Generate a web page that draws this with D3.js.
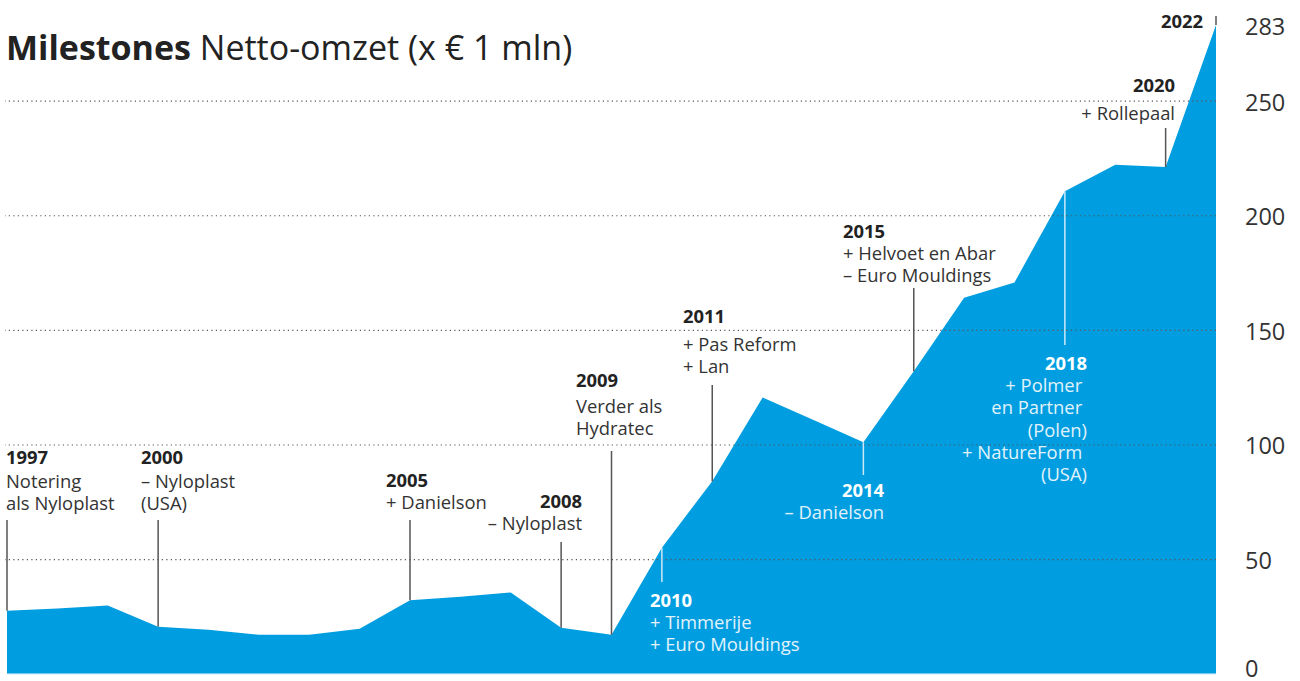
<!DOCTYPE html>
<html>
<head>
<meta charset="utf-8">
<script src="https://cdn.jsdelivr.net/npm/d3@7"></script>
<style>
  body { margin: 0; background: #fff; }
  svg { display: block; font-family: "Open Sans", sans-serif; }
  text { white-space: pre; }
</style>
</head>
<body>
<div id="chart"></div>
<script>
// jaren (2021 ontbreekt in de bron, laatste punt is 2022)
const years = [1997, 1998, 1999, 2000, 2001, 2002, 2003, 2004, 2005, 2006, 2007, 2008,
  2009, 2010, 2011, 2012, 2013, 2014, 2015, 2016, 2017, 2018, 2019, 2020, 2022]
const revenue = [27.5, 28.4, 29.7, 20.5, 19.2, 17, 17, 19.6, 32, 33.6, 35.4, 20,
  17, 55, 84, 120.5, 110.8, 101, 132, 164, 170.7, 210.5, 222, 221, 283]

const axisTicks = [0, 50, 100, 150, 200, 250, 283]
const gridTicks = [50, 100, 150, 200, 250]

const milestoneYears = [1997, 2000, 2005, 2008, 2009, 2010, 2011, 2014, 2015, 2018, 2020, 2022]
const milestoneTexts = [
  ["Notering", "als Nyloplast"],
  ["– Nyloplast", "(USA)"],
  ["+ Danielson"],
  ["– Nyloplast"],
  ["Verder als", "Hydratec"],
  ["+ Timmerije", "+ Euro Mouldings"],
  ["+ Pas Reform", "+ Lan"],
  ["– Danielson"],
  ["+ Helvoet en Abar", "– Euro Mouldings"],
  ["+ Polmer ", "en Partner ", "(Polen)", "+ NatureForm ", "(USA)"],
  ["+ Rollepaal"],
  []
]

// plaatsing van de labels (pixels)
const layout = {
  1997: { tx: 6, anchor: "start", base: 464, gap: 24, end: 520 },
  2000: { tx: 141, anchor: "start", base: 464, gap: 24, end: 520 },
  2005: { tx: 386, anchor: "start", base: 487, gap: 22, end: 520 },
  2008: { tx: 582, anchor: "end", base: 508, gap: 22, end: 542 },
  2009: { tx: 576, anchor: "start", base: 387, gap: 26, end: 451 },
  2010: { tx: 650, anchor: "start", base: 607, gap: 22, end: 582, inside: true },
  2011: { tx: 683, anchor: "start", base: 323, gap: 28, end: 385 },
  2014: { tx: 884, anchor: "end", base: 497, gap: 22, end: 475, inside: true },
  2015: { tx: 843, anchor: "start", base: 238, gap: 22, end: 288 },
  2018: { tx: 1087, anchor: "end", base: 370, gap: 22, end: 345, inside: true },
  2020: { tx: 1175, anchor: "end", base: 92, gap: 28, end: 128 },
  2022: { tx: 1203, anchor: "end", base: 28, gap: 22, end: 16 }
}

const W = 1300, H = 681
const left = 7, right = 1216

const svg = d3.select("#chart").append("svg")
  .attr("width", W).attr("height", H)

const data = years.map((yr, i) => ({ year: yr, value: revenue[i] }))

const x = d3.scalePoint().domain(years).range([left, right])
const y = d3.scaleLinear().domain([0, 283]).range([673.7, 25])

/* area */
const area = d3.area()
  .x(d => x(d.year))
  .y0(y(0))
  .y1(d => y(d.value))

svg.append("path")
  .datum(data)
  .attr("d", area)
  .attr("fill", "#009ee0")

svg.append("line")
  .attr("x1", left).attr("x2", right)
  .attr("y1", y(0)).attr("y2", y(0))
  .attr("stroke", "#7fcdf0").attr("stroke-width", 1)

/* gridlines */
const grid = svg.append("g")
  .attr("transform", `translate(${right}, 0)`)
  .call(d3.axisLeft(y).tickValues(gridTicks).tickSize(right - 5).tickFormat(""))
grid.select(".domain").remove()
grid.selectAll(".tick line")
  .attr("stroke", "#555")
  .attr("stroke-width", 1.2)
  .attr("stroke-dasharray", "1.2,3.3")

/* y-axis right */
const yAxis = svg.append("g")
  .attr("transform", "translate(1237, 0)")
  .call(d3.axisRight(y).tickValues(axisTicks).tickSize(0).tickPadding(8))
yAxis.select(".domain").remove()
yAxis.selectAll("text")
  .attr("font-family", "Open Sans")
  .attr("font-size", 23.5)
  .attr("fill", "#333")
  .attr("dy", d => d === 0 ? "0.1em" : "0.4em")

/* milestones */
milestoneYears.forEach((yr, i) => {
  const l = layout[yr]
  const val = revenue[years.indexOf(yr)]
  const px = x(yr)
  const py = y(val)
  const dark = !l.inside

  svg.append("line")
    .attr("x1", px).attr("x2", px)
    .attr("y1", l.end).attr("y2", py)
    .attr("stroke", dark ? "#555" : "#cde9f8")
    .attr("stroke-width", 1.5)

  const t = svg.append("text")
    .attr("x", l.tx)
    .attr("y", l.base)
    .attr("text-anchor", l.anchor)
    .attr("font-size", 18.4)

  t.append("tspan")
    .attr("x", l.tx)
    .attr("font-weight", 700)
    .attr("fill", dark ? "#222" : "#fff")
    .text(yr)

  milestoneTexts[i].forEach((line, j) => {
    t.append("tspan")
      .attr("x", l.tx)
      .attr("y", l.base + l.gap + j * 22.3)
      .attr("fill", dark ? "#333" : "#e2f2fb")
      .text(line)
  })
})

/* title */
const title = svg.append("text")
  .attr("x", 6).attr("y", 60)
  .attr("font-size", 34)
  .attr("fill", "#222")
title.append("tspan").attr("font-weight", 700).text("Milestones")
title.append("tspan").text(" Netto-omzet (x € 1 mln)")
</script>
</body>
</html>
